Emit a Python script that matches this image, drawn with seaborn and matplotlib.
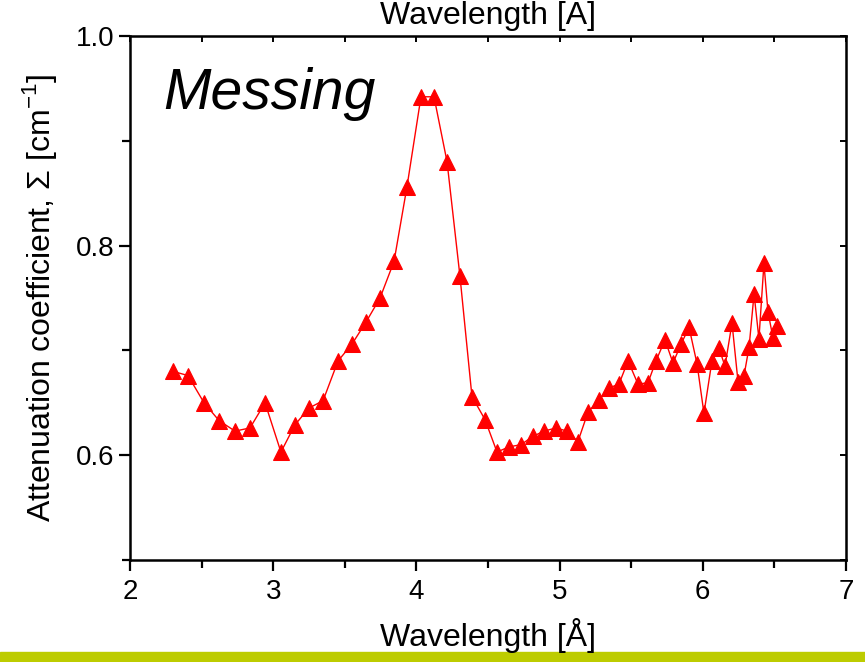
import numpy as np
import pandas as pd
import seaborn as sns
import matplotlib.pyplot as plt
from matplotlib.patches import Rectangle
from matplotlib.ticker import MultipleLocator, NullFormatter

wavelength = [2.300, 2.405, 2.517, 2.622, 2.733, 2.838, 2.943, 3.054, 3.152, 3.250,
              3.348, 3.453, 3.550, 3.648, 3.746, 3.844, 3.934, 4.032, 4.123, 4.214,
              4.304, 4.388, 4.479, 4.563, 4.647, 4.730, 4.814, 4.891, 4.975, 5.052,
              5.128, 5.198, 5.275, 5.345, 5.415, 5.478, 5.547, 5.617, 5.673, 5.736,
              5.792, 5.848, 5.904, 5.960, 6.008, 6.064, 6.113, 6.155, 6.204, 6.246,
              6.288, 6.323, 6.358, 6.392, 6.427, 6.455, 6.490, 6.518]
attenuation = [0.680, 0.676, 0.650, 0.633, 0.623, 0.626, 0.650, 0.603, 0.629, 0.645,
               0.652, 0.690, 0.706, 0.727, 0.750, 0.785, 0.856, 0.942, 0.942, 0.880,
               0.771, 0.656, 0.634, 0.603, 0.608, 0.610, 0.618, 0.623, 0.626, 0.623,
               0.613, 0.641, 0.653, 0.664, 0.668, 0.690, 0.668, 0.669, 0.690, 0.710,
               0.688, 0.706, 0.722, 0.687, 0.640, 0.690, 0.702, 0.685, 0.726, 0.670,
               0.676, 0.703, 0.754, 0.711, 0.783, 0.737, 0.712, 0.723]

df = pd.DataFrame({'wl': wavelength, 'sigma': attenuation})

sns.set_style('ticks')
plt.rcParams['font.family'] = ['Liberation Sans', 'DejaVu Sans']
plt.rcParams['mathtext.fontset'] = 'custom'
plt.rcParams['mathtext.rm'] = 'Liberation Sans'
# everything in plain black like the original
for k in ['text.color', 'axes.labelcolor', 'xtick.color', 'ytick.color', 'axes.edgecolor']:
    plt.rcParams[k] = 'black'

fig = plt.figure(figsize=(8.65, 6.62), dpi=100)
ax = fig.add_axes([130 / 865, 1 - 560 / 662, 716 / 865, 524 / 662])

sns.lineplot(data=df, x='wl', y='sigma', ax=ax, color='red', lw=1.0,
             marker='^', markersize=11, markeredgecolor='red', sort=False)

ax.set_xlim(2, 7)
ax.set_ylim(0.5, 1.0)
ax.xaxis.set_major_locator(MultipleLocator(1))
ax.xaxis.set_minor_locator(MultipleLocator(0.5))
ax.yaxis.set_major_locator(MultipleLocator(0.2))
ax.yaxis.set_minor_locator(MultipleLocator(0.1))
ax.yaxis.set_major_formatter(plt.FuncFormatter(lambda v, p: f'{v:.1f}'))
ax.tick_params(which='major', direction='out', length=8, width=1.6, labelsize=20)
ax.tick_params(which='minor', direction='out', length=6, width=1.6)
ax.tick_params(axis='x', pad=6)
for s in ax.spines.values():
    s.set_linewidth(1.8)

ax.set_xlabel('Wavelength [Å]', fontsize=23, labelpad=9)
ax.set_ylabel('Attenuation coefficient, Σ [cm$^{-1}$]', fontsize=23, labelpad=12)

# top axis with its own label, ticks only
top = ax.secondary_xaxis('top')
top.xaxis.set_major_locator(MultipleLocator(1))
top.xaxis.set_minor_locator(MultipleLocator(0.5))
top.xaxis.set_major_formatter(NullFormatter())
top.tick_params(which='both', direction='in', length=4, width=1.4)
top.set_xlabel('Wavelength [A]', fontsize=23, labelpad=5)

# right side: short inward ticks, no labels
right = ax.secondary_yaxis('right')
right.yaxis.set_major_locator(MultipleLocator(0.1))
right.yaxis.set_major_formatter(NullFormatter())
right.tick_params(which='both', direction='in', length=4, width=1.4)

ax.text(0.046, 0.94, 'Messing', transform=ax.transAxes, fontsize=41,
        style='italic', ha='left', va='top')

# green band along the bottom edge
fig.add_artist(Rectangle((0, 0), 1, 10 / 662, transform=fig.transFigure,
                         color='#bdcc00', zorder=-1))

fig.savefig('out.png', dpi=100)
